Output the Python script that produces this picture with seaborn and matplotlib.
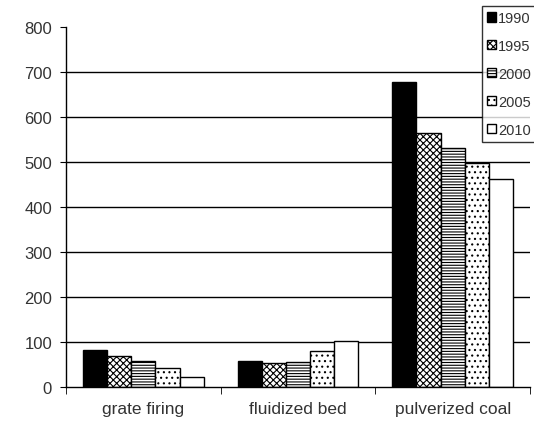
import pandas as pd
import matplotlib.pyplot as plt
import seaborn as sns
from matplotlib.patches import Patch

# data
categories = ['grate firing', 'fluidized bed', 'pulverized coal']
years = ['1990', '1995', '2000', '2005', '2010']
v1990 = [82, 57, 678]
v1995 = [69, 54, 564]
v2000 = [58, 56, 531]
v2005 = [42, 79, 498]
v2010 = [22, 102, 462]
yticks = [0, 100, 200, 300, 400, 500, 600, 700, 800]

series = [v1990, v1995, v2000, v2005, v2010]
rows = []
for yr, vals in zip(years, series):
    for cat, v in zip(categories, vals):
        rows.append({'category': cat, 'year': yr, 'value': v})
df = pd.DataFrame(rows)

sns.set_style('white')
plt.rcParams['font.family'] = ['Liberation Sans', 'DejaVu Sans']
plt.rcParams['hatch.linewidth'] = 0.8

fig = plt.figure(figsize=(5.34, 4.35), dpi=100)
ax = fig.add_axes([66 / 534, 1 - 388 / 435, 464 / 534, 360 / 435])

fills = ['black', 'white', 'white', 'white', 'white']
hatches = [None, 'xxxxx', '------', '...', None]

sns.barplot(data=df, x='category', y='value', hue='year', order=categories,
            hue_order=years, palette=fills, width=0.78, edgecolor='black',
            linewidth=1, saturation=1, legend=False, ax=ax)

for cont, h in zip(ax.containers, hatches):
    for bar in cont:
        bar.set_hatch(h)
        bar.set_edgecolor('black')

# horizontal gridlines (none at the top)
ax.hlines(yticks[1:-1], -0.5, 2.5, colors='black', linewidth=1, zorder=0)

ax.set_xlim(-0.5, 2.5)
ax.set_ylim(0, 800)
ax.set_yticks(yticks)
ax.set_xlabel('')
ax.set_ylabel('')

for side in ['top', 'right']:
    ax.spines[side].set_visible(False)
for side in ['left', 'bottom']:
    ax.spines[side].set_color('black')
    ax.spines[side].set_linewidth(1)

ax.tick_params(axis='y', direction='out', length=4, color='black', labelsize=12,
               labelcolor='#333333', left=True, pad=6)
ax.tick_params(axis='x', which='major', length=0, labelsize=12.5,
               labelcolor='#333333', pad=10)
ax.set_xticks([-0.5, 0.5, 1.5, 2.5], minor=True)
ax.tick_params(axis='x', which='minor', direction='out', length=5, color='black',
               bottom=True)

handles = [Patch(facecolor=f, edgecolor='black', hatch=h, label=y)
           for f, h, y in zip(fills, hatches, years)]
leg = fig.legend(handles=handles, loc='upper left',
                 bbox_to_anchor=(482 / 534, 1 - 7 / 435), fontsize=10.5,
                 frameon=True, fancybox=False, edgecolor='black',
                 handlelength=0.6, handleheight=0.6, handletextpad=0.15,
                 labelspacing=0.95, borderpad=0.35, borderaxespad=0)
leg.get_frame().set_linewidth(1)
for t in leg.get_texts():
    t.set_color('#333333')

fig.savefig('out.png', dpi=100, facecolor='white')
